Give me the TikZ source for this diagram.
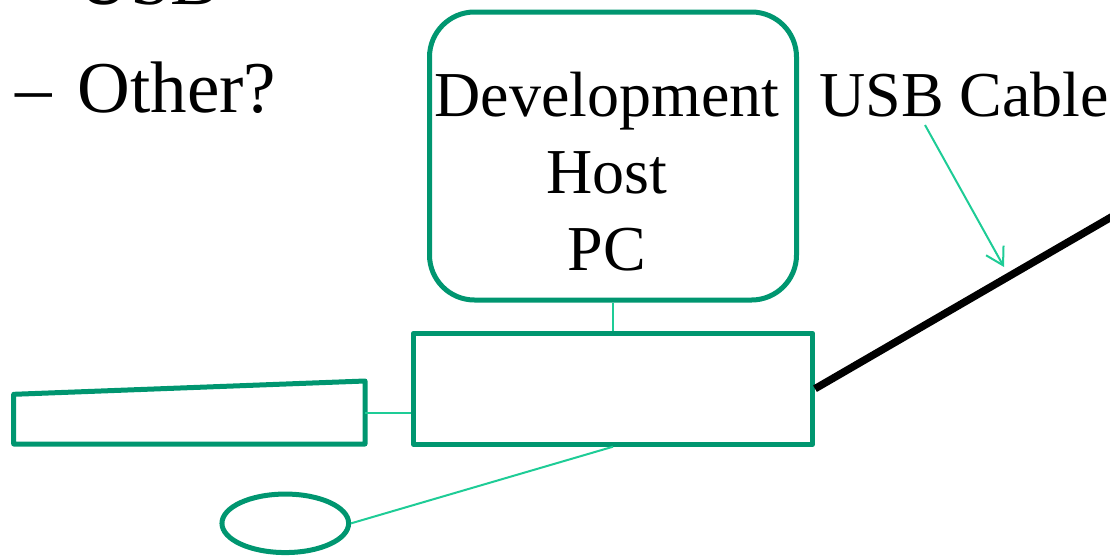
\documentclass[tikz,border=0pt]{standalone}
\usepackage{fontspec}
\setmainfont{Liberation Serif}
\usetikzlibrary{arrows.meta,shapes.geometric}
\definecolor{boxteal}{RGB}{0,150,112}
\definecolor{linkteal}{RGB}{30,204,150}
\begin{document}
\begin{tikzpicture}[x=1pt,y=-1pt,
  unitbox/.style={draw=boxteal,line width=5pt,line join=round,inner sep=0pt},
  link/.style={draw=linkteal,line width=2pt},
  cable/.style={draw=black,line width=7.5pt},
  bigtext/.style={inner sep=0pt,font=\fontsize{73}{108}\selectfont},
  labeltext/.style={inner sep=0pt,font=\fontsize{64}{77}\selectfont},
]
\useasboundingbox (0,0) rectangle (1110,558);
\clip (0,0) rectangle (1110,558);

% bullet list, top left
\node[bigtext,anchor=base west] (usb) at (15,4) {–\kern26pt USB};
\node[bigtext,anchor=base west] (other) at (15,112) {–\kern26pt Other?};

% development host
\node[unitbox,rounded corners=45pt,minimum width=367pt,minimum height=288pt] (host) at (613,156) {};
\node[labeltext,align=center] (hostlabel) at (607,172) {Development\\Host\\PC};

% board in the middle
\node[unitbox,minimum width=399pt,minimum height=111pt] (board) at (613,388.7) {};

% left slab
\coordinate (slab-tl) at (13.7,394.3);
\coordinate (slab-tr) at (365,381);
\coordinate (slab-br) at (365,444);
\coordinate (slab-bl) at (13.7,444);
\coordinate (slab-port) at (365,412.7);
\draw[boxteal,line width=5pt,line join=round] (slab-tl) -- (slab-tr) -- (slab-br) -- (slab-bl) -- cycle;

% small ellipse below
\node[unitbox,ellipse,minimum width=126.7pt,minimum height=58.5pt] (probe) at (285.3,523.3) {};

% connectors
\draw[link] (host.south) -- (board.north);
\draw[link] (slab-port) -- (slab-port -| board.west);
\draw[link] (probe.east) -- (board.south);

% USB cable
\coordinate (cable-end) at (1140,200.4);
\draw[cable] (board.east) -- (cable-end);

% cable label and pointer
\node[labeltext,anchor=base west] (cablelabel) at (819,116) {USB Cable};
\coordinate (tag-foot) at (925,125);
\coordinate (tag-tip) at (1004,267);
\draw[link,-{Straight Barb[length=17pt,width=20pt]}] (tag-foot) -- (tag-tip);
\end{tikzpicture}
\end{document}
